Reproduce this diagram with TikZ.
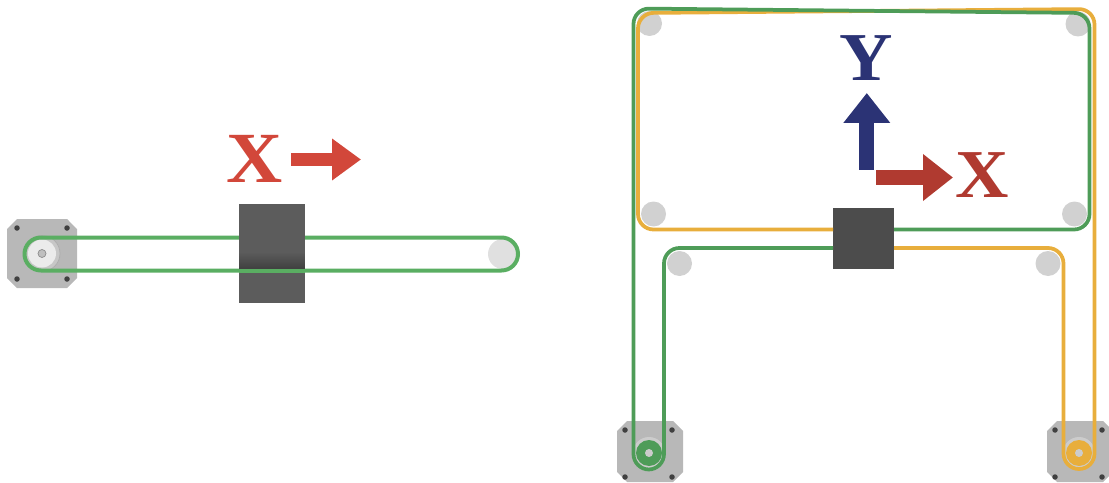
\documentclass[tikz,border=0pt]{standalone}
\usepackage{fontspec}
\setmainfont{Liberation Serif}[BoldFeatures={FakeStretch=1.08}]
\usepackage{tikz}
\usetikzlibrary{arrows.meta}
\definecolor{beltgreen}{HTML}{4E9C58}
\definecolor{beltlight}{HTML}{5AAE62}
\definecolor{beltorange}{HTML}{E8AE3C}
\definecolor{axisred}{HTML}{D2473A}
\definecolor{axisdark}{HTML}{B03A30}
\definecolor{axisblue}{HTML}{2B3375}
% centre, half width, half height
\newcommand{\motorbody}[3]{\fill[black!28] ([shift={(-#2+10,-#3)}]#1) -- ([shift={(#2-10,-#3)}]#1) -- ([shift={(#2,-#3+10)}]#1)
    -- ([shift={(#2,#3-10)}]#1) -- ([shift={(#2-10,#3)}]#1) -- ([shift={(-#2+10,#3)}]#1) -- ([shift={(-#2,#3-10)}]#1) -- ([shift={(-#2,-#3+10)}]#1) -- cycle;}

\begin{document}
\begin{tikzpicture}[
    x=0.02cm, y=-0.02cm,
    disc/.style={circle, inner sep=0pt, minimum size=#1*0.02cm},
    idler/.style={disc=25, fill=black!2!gray!35},
    carriage/.style={rectangle, fill=black!68, inner sep=0pt, outer sep=0pt},
    bolt/.style={disc=5.5, fill=black!75},
    belt/.style={line width=0.075cm, rounded corners=0.31cm},
    axisarrow/.style={-{Triangle[length=0.6cm, width=0.9cm]}, line width=0.3cm},
    axislabel/.style={inner sep=0pt, font=\bfseries\fontsize{39}{39}\selectfont}
]
\useasboundingbox (0,0) rectangle (1109,483);
\clip (0,0) rectangle (1109,483);

% ================= X AXIS ONLY (LEFT) =================
% Motor
\coordinate (MotorX) at (42,253.5);
\motorbody{MotorX}{35}{34.5}
\node[bolt] (BoltXa) at (17,228) {};
\node[bolt] (BoltXb) at (67,228) {};
\node[bolt] (BoltXc) at (17,279) {};
\node[bolt] (BoltXd) at (67,279) {};
\node[disc=36, fill=black!22, draw=black!32, thin] (RingX) at (MotorX) {};
\node[disc=28, fill=black!8] (PulleyX) at (MotorX) {};
\node[disc=8, fill=black!25, draw=black!45, thin] (ShaftX) at (MotorX) {};

% Idler
\node[disc=30, fill=black!12] (IdlerX) at (503,254) {};

% Belt
\coordinate (BeltXa) at (24.5,237.5);
\coordinate (BeltXb) at (518,237.5);
\coordinate (BeltXc) at (518,270.5);
\coordinate (BeltXd) at (24.5,270.5);
\draw[beltlight, line width=0.08cm, rounded corners=0.33cm] (BeltXa) -- (BeltXb) -- (BeltXc) -- (BeltXd) -- cycle;

% Carriage
\node[carriage, fill=black!64, minimum width=1.32cm, minimum height=1.98cm] (CarX) at (272,253.5) {};
\shade[top color=black!64, bottom color=black!76] (CarX.west |- 0,252) rectangle (CarX.east |- 0,270);
\draw[beltlight, line width=0.08cm] (CarX.west |- BeltXd) -- (CarX.east |- BeltXd);

% Label
\node[axislabel, font=\bfseries\fontsize{41}{41}\selectfont, text=axisred] (LabelX) at (255,159) {X};
\coordinate (ArrowXa) at (291,159.5);
\coordinate (ArrowXb) at (361,159.5);
\draw[axisarrow, axisred, -{Triangle[length=0.58cm, width=0.8cm]}, line width=0.26cm] (ArrowXa) -- (ArrowXb);

% ================= X AND Y AXES (RIGHT) =================
% Motors
\coordinate (MotorL) at (650,451.5);
\motorbody{MotorL}{33}{30.5}
\node[bolt] (BoltLa) at (625,430) {};
\node[bolt] (BoltLb) at (672,430) {};
\node[bolt] (BoltLc) at (625,477) {};
\node[bolt] (BoltLd) at (672,477) {};
\node[disc=32, fill=black!20] (RingL) at (649,453) {};
\node[disc=26, fill=beltgreen] (PulleyL) at (RingL) {};
\node[disc=8, fill=black!20] (ShaftL) at (RingL) {};

\coordinate (MotorR) at (1080,451.5);
\motorbody{MotorR}{33}{30.5}
\node[bolt] (BoltRa) at (1055,430) {};
\node[bolt] (BoltRb) at (1102,430) {};
\node[bolt] (BoltRc) at (1055,477) {};
\node[bolt] (BoltRd) at (1102,477) {};
\node[disc=32, fill=black!20] (RingR) at (1079,453) {};
\node[disc=26, fill=beltorange] (PulleyR) at (RingR) {};
\node[disc=8, fill=black!20] (ShaftR) at (RingR) {};

% Idlers
\node[idler] (IdlerA) at (649.5,23.5) {};
\node[idler] (IdlerB) at (1078,24) {};
\node[idler] (IdlerC) at (653.5,214) {};
\node[idler] (IdlerD) at (1074.5,214) {};
\node[idler] (IdlerE) at (679.5,263.5) {};
\node[idler] (IdlerF) at (1048,263.5) {};

% Carriage
\node[carriage, fill=black!70, minimum width=1.22cm, minimum height=1.22cm] (CarXY) at (863.5,238.5) {};

% Orange belt
\coordinate (OrgA) at (1063.5,248);
\coordinate (OrgB) at (1063.5,469);
\coordinate (OrgC) at (1094.5,469);
\coordinate (OrgD) at (1094.5,9);
\coordinate (OrgE) at (638,13);
\coordinate (OrgF) at (638,229.5);
\draw[belt, beltorange] (CarXY.east |- OrgA) -- (OrgA) -- (OrgB) -- (OrgC) -- (OrgD) -- (OrgE) -- (OrgF) -- (CarXY.west |- OrgF);

% Green belt
\coordinate (GrnA) at (664,248);
\coordinate (GrnB) at (664,469.5);
\coordinate (GrnC) at (633.5,469.5);
\coordinate (GrnD) at (633.5,8.5);
\coordinate (GrnE) at (1089.5,13);
\coordinate (GrnF) at (1089.5,229.5);
\draw[belt, beltgreen] (CarXY.west |- GrnA) -- (GrnA) -- (GrnB) -- (GrnC) -- (GrnD) -- (GrnE) -- (GrnF) -- (CarXY.east |- GrnF);

% Axis labels
\node[axislabel, text=axisblue] (LabelY) at (866.5,58.5) {Y};
\node[axislabel, text=axisdark] (LabelXR) at (982.5,175) {X};
\coordinate (ArrowYa) at (866.8,169.5);
\coordinate (ArrowYb) at (866.8,93);
\coordinate (ArrowRa) at (876,177.5);
\coordinate (ArrowRb) at (953,177.5);
\draw[axisarrow, axisblue] (ArrowYa) -- (ArrowYb);
\draw[axisarrow, axisdark] (ArrowRa) -- (ArrowRb);

\end{tikzpicture}
\end{document}
